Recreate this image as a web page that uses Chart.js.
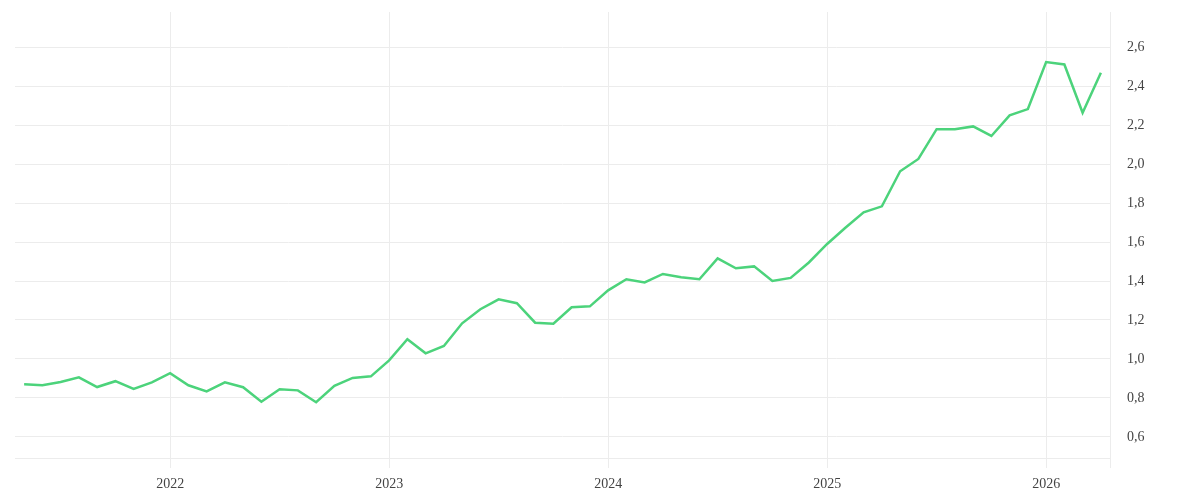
<!DOCTYPE html>
<html>
<head>
<meta charset="utf-8">
<script src="https://cdn.jsdelivr.net/npm/chart.js@4/dist/chart.umd.min.js"></script>
<style>
  html, body { margin: 0; padding: 0; background: #fff; }
  #wrap { width: 1200px; height: 500px; }
</style>
</head>
<body>
<div id="wrap"><canvas id="priceChart"></canvas></div>
<script>
// ==========================
// Data (monthly, May 2021 -> Apr 2026)
// ==========================
const months = [
  "2021-05", "2021-06", "2021-07", "2021-08", "2021-09", "2021-10", "2021-11", "2021-12",
  "2022-01", "2022-02", "2022-03", "2022-04", "2022-05", "2022-06", "2022-07", "2022-08", "2022-09", "2022-10", "2022-11", "2022-12",
  "2023-01", "2023-02", "2023-03", "2023-04", "2023-05", "2023-06", "2023-07", "2023-08", "2023-09", "2023-10", "2023-11", "2023-12",
  "2024-01", "2024-02", "2024-03", "2024-04", "2024-05", "2024-06", "2024-07", "2024-08", "2024-09", "2024-10", "2024-11", "2024-12",
  "2025-01", "2025-02", "2025-03", "2025-04", "2025-05", "2025-06", "2025-07", "2025-08", "2025-09", "2025-10", "2025-11", "2025-12",
  "2026-01", "2026-02", "2026-03", "2026-04"
];

const values = [
  0.870, 0.865, 0.882, 0.906, 0.856, 0.886, 0.846, 0.880,
  0.927, 0.865, 0.834, 0.880, 0.855, 0.781, 0.845, 0.839, 0.778, 0.862, 0.903, 0.911,
  0.993, 1.101, 1.029, 1.067, 1.183, 1.255, 1.306, 1.286, 1.186, 1.181, 1.265, 1.270,
  1.352, 1.409, 1.393, 1.436, 1.419, 1.409, 1.516, 1.465, 1.475, 1.400, 1.416, 1.495,
  1.590, 1.673, 1.752, 1.783, 1.963, 2.026, 2.179, 2.178, 2.193, 2.144, 2.250, 2.282,
  2.523, 2.511, 2.263, 2.468
];

const yTicks = [0.6, 0.8, 1.0, 1.2, 1.4, 1.6, 1.8, 2.0, 2.2, 2.4, 2.6];

const GRID = "#ececec";
const TEXT = "#444";
const FONT = "'Liberation Serif', serif";

// x positions = month index, ticks on each January
const points = values.map((v, i) => ({ x: i, y: v }));
const janIdx = months.map((m, i) => m.endsWith("-01") ? i : -1).filter(i => i >= 0);

const ctx = document.getElementById("priceChart").getContext("2d");
window.priceChart = new Chart(ctx, {
  type: "line",
  data: {
    datasets: [{
      data: points,
      borderColor: "#4cd37b",
      borderWidth: 2.5,
      pointRadius: 0,
      pointHoverRadius: 0,
      tension: 0,
      fill: false
    }]
  },
  options: {
    responsive: true,
    maintainAspectRatio: false,
    animation: false,
    devicePixelRatio: 1,
    layout: { padding: { left: 15, top: 12, right: 0, bottom: 0 } },
    plugins: {
      legend: { display: false },
      tooltip: { enabled: false }
    },
    scales: {
      x: {
        type: "linear",
        min: -0.5,
        max: months.length - 0.5,
        afterBuildTicks: (axis) => {
          axis.ticks = janIdx.map(i => ({ value: i })).concat([{ value: months.length - 0.5 }]);
        },
        afterFit: (axis) => { axis.height = 42; },
        ticks: {
          autoSkip: false,
          maxRotation: 0,
          padding: 8,
          color: TEXT,
          font: { family: FONT, size: 14 },
          callback: (val) => {
            const i = Math.round(val);
            if (Math.abs(val - i) > 0.01 || !months[i]) return "";
            return months[i].slice(0, 4);
          }
        },
        grid: { color: GRID, lineWidth: 1, tickLength: 10 },
        border: { display: true, color: GRID }
      },
      y: {
        position: "right",
        min: 0.492,
        max: 2.78,
        afterBuildTicks: (axis) => {
          axis.ticks = yTicks.map(v => ({ value: v }));
        },
        afterFit: (axis) => { axis.width = 90; axis.paddingTop = 0; },
        ticks: {
          padding: 17,
          color: TEXT,
          font: { family: FONT, size: 14 },
          callback: (val) => val.toFixed(1).replace(".", ",")
        },
        grid: { color: GRID, lineWidth: 1, drawTicks: false },
        border: { display: false }
      }
    }
  }
});
</script>
</body>
</html>
